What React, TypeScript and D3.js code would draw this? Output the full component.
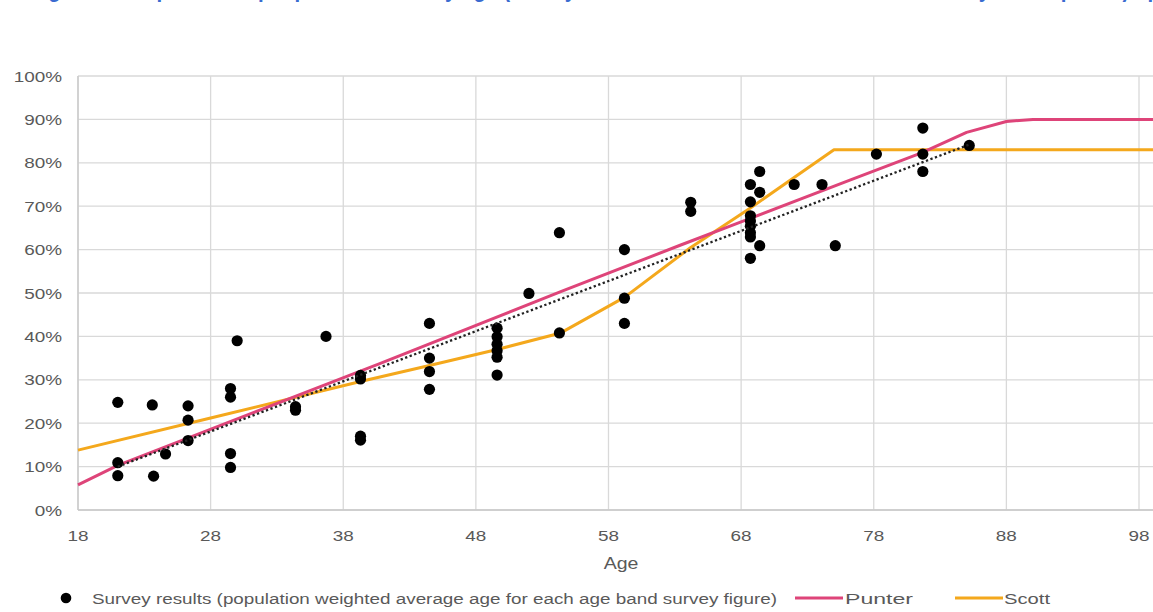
import React from "react";
import * as d3 from "d3";

const surveyAge = [21, 21, 21, 23.6, 23.7, 24.6, 26.3, 26.3, 26.3, 29.5, 29.5, 29.5, 29.5, 30, 34.4, 34.4, 36.7, 39.3, 39.3, 39.3, 39.3, 44.5, 44.5, 44.5, 44.5, 49.6, 49.6, 49.6, 49.6, 49.6, 49.6, 52, 54.3, 54.3, 59.2, 59.2, 59.2, 64.2, 64.2, 68.7, 68.7, 68.7, 68.7, 68.7, 68.7, 68.7, 68.7, 69.4, 69.4, 69.4, 72, 74.1, 75.1, 78.2, 81.7, 81.7, 81.7, 85.2];
const surveyPct = [24.8, 10.9, 7.9, 24.2, 7.8, 12.9, 24, 20.7, 16, 28, 26, 13, 9.8, 39, 23.8, 23, 40, 31, 30.2, 17, 16.1, 43, 35, 31.9, 27.8, 41.9, 39.9, 38.2, 36.7, 35.2, 31.1, 49.9, 63.9, 40.8, 60, 48.8, 43, 70.9, 68.8, 75, 71, 67.8, 66.6, 65.4, 63.9, 62.9, 58, 78, 73.2, 60.9, 75, 75, 60.9, 82, 88, 82, 78, 84];

const punterAge = [18, 21, 40.8, 54.4, 63.4, 68, 76.2, 81.6, 85, 88, 90, 99.5];
const punterPct = [5.8, 10.3, 33.8, 50.3, 61, 66.4, 76, 82.3, 87, 89.5, 90, 90];

const scottAge = [18, 28, 39.3, 44.5, 49.6, 54.4, 59.2, 64.2, 68.7, 75, 99.5];
const scottPct = [13.8, 21.2, 29.6, 33.3, 37, 40.8, 49, 60.5, 69.6, 83, 83];

const trendAge = [21, 85.2];
const trendPct = [10, 84.2];

const xTicks = [18, 28, 38, 48, 58, 68, 78, 88, 98];
const yTicks = [0, 10, 20, 30, 40, 50, 60, 70, 80, 90, 100];

const legendLabels = [
  "Survey results (population weighted average age for each age band survey figure)",
  "Punter",
  "Scott",
];

const W = 1153;
const H = 612;
const PINK = "#DE4479";
const ORANGE = "#F4A81C";
const GRID = "#d9d9d9";
const TXT = "#595959";
const FONT = "'Liberation Sans', Arial, sans-serif";
const SX = 1.22;

export default function App() {
  const x = d3.scaleLinear().domain([18, 98]).range([78, 1139]);
  const y = d3.scaleLinear().domain([0, 100]).range([510, 76]);
  const right = W;

  const line = d3
    .line<[number, number]>()
    .x((d) => x(d[0]))
    .y((d) => y(d[1]));

  const punter = punterAge.map((a, i) => [a, punterPct[i]] as [number, number]);
  const scott = scottAge.map((a, i) => [a, scottPct[i]] as [number, number]);
  const trend = trendAge.map((a, i) => [a, trendPct[i]] as [number, number]);

  return (
    <svg
      width={W}
      height={H}
      style={{ position: "absolute", left: 0, top: 0, background: "#fff" }}
      fontFamily={FONT}
    >
      <rect x={0} y={0} width={W} height={H} fill="#fff" />
      <text
        x={30}
        y={-3}
        fontSize={24}
        fontWeight="bold"
        fill="#3a6bd0"
        textLength={1130}
        lengthAdjust="spacingAndGlyphs"
      >
        Figure 4: Proportion of people with a will by age (survey results and the Punter and Scott mortality assumptions) up
      </text>
      {yTicks.map((t) => (
        <line key={"h" + t} x1={x(18)} x2={right} y1={y(t)} y2={y(t)} stroke={GRID} strokeWidth={1.3} />
      ))}
      {xTicks.map((t) => (
        <line key={"v" + t} x1={x(t)} x2={x(t)} y1={y(100)} y2={y(0)} stroke={GRID} strokeWidth={1.3} />
      ))}
      <line x1={x(18)} x2={x(18)} y1={y(100)} y2={y(0)} stroke="#c8c8c8" strokeWidth={1.3} />
      <line x1={x(18)} x2={right} y1={y(0)} y2={y(0)} stroke="#c8c8c8" strokeWidth={1.3} />

      {yTicks.map((t) => (
        <text
          key={"yl" + t}
          transform={`translate(62,${y(t) + 5.5}) scale(${SX},1)`}
          textAnchor="end"
          fontSize={15.5}
          fill={TXT}
        >
          {t + "%"}
        </text>
      ))}
      {xTicks.map((t) => (
        <text
          key={"xl" + t}
          transform={`translate(${x(t)},${541}) scale(${SX},1)`}
          textAnchor="middle"
          fontSize={15.5}
          fill={TXT}
        >
          {t}
        </text>
      ))}
      <text transform={`translate(621,569) scale(${SX},1)`} textAnchor="middle" fontSize={16} fill={TXT}>
        Age
      </text>

      <path d={line(scott) || ""} fill="none" stroke={ORANGE} strokeWidth={3} strokeLinejoin="round" />
      <path d={line(punter) || ""} fill="none" stroke={PINK} strokeWidth={3} strokeLinejoin="round" />

      {surveyAge.map((a, i) => (
        <circle key={"p" + i} cx={x(a)} cy={y(surveyPct[i])} r={5.6} fill="#000" />
      ))}

      <path d={line(trend) || ""} fill="none" stroke="#222" strokeWidth={2.3} strokeDasharray="2.3,2.5" />

      <circle cx={66} cy={598} r={5.3} fill="#000" />
      <text x={92} y={604} fontSize={15.5} fill={TXT} textLength={685} lengthAdjust="spacingAndGlyphs">
        {legendLabels[0]}
      </text>
      <line x1={795} x2={843} y1={598} y2={598} stroke={PINK} strokeWidth={3} />
      <text x={845} y={604} fontSize={15.5} fill={TXT} textLength={68} lengthAdjust="spacingAndGlyphs">
        {legendLabels[1]}
      </text>
      <line x1={955} x2={1003} y1={598} y2={598} stroke={ORANGE} strokeWidth={3} />
      <text x={1004} y={604} fontSize={15.5} fill={TXT} textLength={46} lengthAdjust="spacingAndGlyphs">
        {legendLabels[2]}
      </text>
    </svg>
  );
}
